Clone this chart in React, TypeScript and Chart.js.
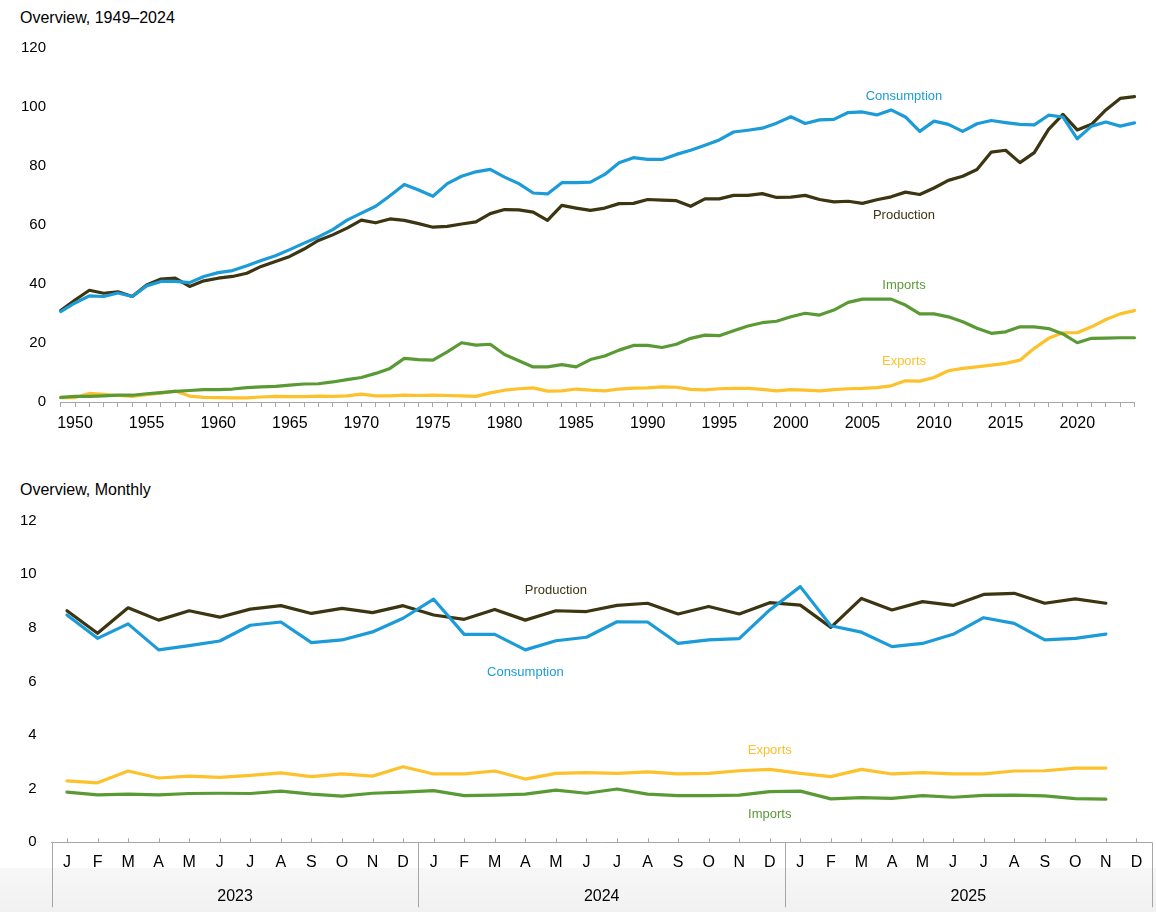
import React, { useEffect, useRef } from 'react';
import { Chart, registerables } from 'chart.js';

Chart.register(...registerables);

const FONT = '"Liberation Sans", Arial, Helvetica, sans-serif';
const AXIS_GRAY = '#a6a6a6';

const COLOR_CONSUMPTION = '#1b9bd7';
const COLOR_PRODUCTION = '#3c3511';
const COLOR_IMPORTS = '#5a9a35';
const COLOR_EXPORTS = '#fdc12b';

// ---------- Annual data (1949–2024) ----------
const YEARS = [
  '1949', '1950', '1951', '1952', '1953', '1954', '1955', '1956', '1957', '1958',
  '1959', '1960', '1961', '1962', '1963', '1964', '1965', '1966', '1967', '1968',
  '1969', '1970', '1971', '1972', '1973', '1974', '1975', '1976', '1977', '1978',
  '1979', '1980', '1981', '1982', '1983', '1984', '1985', '1986', '1987', '1988',
  '1989', '1990', '1991', '1992', '1993', '1994', '1995', '1996', '1997', '1998',
  '1999', '2000', '2001', '2002', '2003', '2004', '2005', '2006', '2007', '2008',
  '2009', '2010', '2011', '2012', '2013', '2014', '2015', '2016', '2017', '2018',
  '2019', '2020', '2021', '2022', '2023', '2024',
];

const ANNUAL_CONSUMPTION = [
  30.7, 33.6, 36.0, 35.8, 37.0, 35.8, 39.4, 40.9, 40.9, 40.5,
  42.6, 43.9, 44.6, 46.2, 48.0, 49.6, 51.7, 53.9, 56.0, 58.5,
  61.7, 64.1, 66.4, 70.0, 73.8, 71.9, 69.8, 74.1, 76.6, 78.1,
  78.9, 76.3, 74.1, 70.9, 70.6, 74.4, 74.4, 74.6, 77.2, 81.2,
  82.9, 82.3, 82.3, 84.0, 85.4, 87.1, 88.9, 91.6, 92.2, 92.9,
  94.6, 96.8, 94.5, 95.7, 95.9, 98.2, 98.4, 97.4, 99.1, 96.7,
  91.8, 95.3, 94.2, 91.8, 94.4, 95.5, 94.8, 94.2, 94.0, 97.3,
  96.7, 89.3, 93.6, 95.0, 93.6, 94.7,
];

const ANNUAL_PRODUCTION = [
  31.0, 34.6, 37.9, 36.9, 37.4, 35.8, 39.7, 41.7, 42.0, 39.2,
  41.1, 42.0, 42.6, 43.7, 46.0, 47.7, 49.4, 51.9, 54.8, 56.7,
  59.0, 61.7, 60.8, 62.1, 61.6, 60.5, 59.3, 59.6, 60.4, 61.1,
  63.9, 65.3, 65.2, 64.4, 61.6, 66.7, 65.8, 65.0, 65.8, 67.3,
  67.4, 68.7, 68.5, 68.3, 66.4, 68.9, 68.9, 70.1, 70.1, 70.7,
  69.4, 69.5, 70.1, 68.7, 67.9, 68.1, 67.4, 68.6, 69.6, 71.2,
  70.4, 72.6, 75.2, 76.6, 78.9, 84.8, 85.4, 81.2, 84.6, 92.5,
  97.6, 92.3, 94.2, 99.1, 103.0, 103.6,
];

const ANNUAL_IMPORTS = [
  1.6, 1.9, 1.9, 2.1, 2.3, 2.3, 2.8, 3.2, 3.6, 3.9,
  4.2, 4.2, 4.4, 4.9, 5.1, 5.3, 5.7, 6.1, 6.2, 6.8,
  7.6, 8.3, 9.7, 11.4, 14.8, 14.4, 14.2, 17.0, 20.1, 19.3,
  19.6, 16.1, 14.0, 11.9, 11.9, 12.7, 11.9, 14.4, 15.6, 17.6,
  19.2, 19.2, 18.5, 19.6, 21.6, 22.7, 22.5, 24.2, 25.8, 26.9,
  27.4, 28.9, 30.1, 29.5, 31.2, 33.8, 34.9, 34.9, 34.9, 32.9,
  29.9, 29.9, 28.9, 27.2, 25.0, 23.3, 23.8, 25.5, 25.5, 24.9,
  23.1, 20.1, 21.6, 21.7, 21.8, 21.8,
];

const ANNUAL_EXPORTS = [
  1.5, 1.5, 2.9, 2.6, 2.2, 1.9, 2.5, 3.0, 3.7, 2.0,
  1.6, 1.5, 1.4, 1.4, 1.7, 1.9, 1.8, 1.8, 2.0, 1.9,
  2.1, 2.7, 2.1, 2.1, 2.3, 2.2, 2.3, 2.2, 2.1, 1.9,
  3.1, 4.0, 4.5, 4.8, 3.7, 3.8, 4.4, 4.0, 3.8, 4.4,
  4.7, 4.8, 5.1, 5.0, 4.3, 4.1, 4.5, 4.6, 4.6, 4.3,
  3.8, 4.2, 4.0, 3.8, 4.2, 4.5, 4.6, 4.9, 5.5, 7.2,
  7.1, 8.3, 10.6, 11.4, 11.9, 12.5, 13.1, 14.2, 18.2, 21.6,
  23.5, 23.5, 25.5, 28.0, 29.9, 31.0,
];

const ANNUAL_Y_MAX = 120;
const ANNUAL_Y_STEP = 20;

// Inline series labels (category index, value)
const ANNUAL_LABELS = [
  { text: 'Consumption', x: 58.9, y: 103.6, color: COLOR_CONSUMPTION },
  { text: 'Production', x: 58.9, y: 63.4, color: COLOR_PRODUCTION },
  { text: 'Imports', x: 58.9, y: 39.7, color: COLOR_IMPORTS },
  { text: 'Exports', x: 58.9, y: 13.9, color: COLOR_EXPORTS },
];

// ---------- Monthly data (Jan 2023 – Dec 2025) ----------
const MONTH_LETTERS = ['J', 'F', 'M', 'A', 'M', 'J', 'J', 'A', 'S', 'O', 'N', 'D'];
const MONTH_YEARS = ['2023', '2024', '2025'];
const MONTH_LABELS = [...MONTH_LETTERS, ...MONTH_LETTERS, ...MONTH_LETTERS];

const MONTHLY_PRODUCTION = [
  8.64, 7.80, 8.75, 8.29, 8.64, 8.40, 8.70, 8.83, 8.54, 8.73, 8.57, 8.83,
  8.48, 8.32, 8.69, 8.29, 8.64, 8.61, 8.84, 8.92, 8.52, 8.80, 8.52, 8.94,
  8.85, 8.02, 9.10, 8.67, 8.98, 8.84, 9.25, 9.29, 8.92, 9.08, 8.92, null,
];
const MONTHLY_CONSUMPTION = [
  8.48, 7.61, 8.15, 7.18, 7.34, 7.51, 8.10, 8.22, 7.45, 7.55, 7.85, 8.36,
  9.07, 7.76, 7.76, 7.18, 7.52, 7.65, 8.23, 8.22, 7.42, 7.55, 7.60, 8.67,
  9.54, 8.08, 7.84, 7.30, 7.42, 7.76, 8.38, 8.17, 7.55, 7.61, 7.77, null,
];
const MONTHLY_EXPORTS = [
  2.29, 2.22, 2.66, 2.40, 2.47, 2.42, 2.50, 2.59, 2.45, 2.55, 2.47, 2.82,
  2.55, 2.55, 2.66, 2.36, 2.57, 2.60, 2.57, 2.63, 2.55, 2.57, 2.67, 2.72,
  2.57, 2.45, 2.72, 2.55, 2.60, 2.55, 2.55, 2.66, 2.67, 2.77, 2.77, null,
];
const MONTHLY_IMPORTS = [
  1.87, 1.77, 1.80, 1.77, 1.82, 1.83, 1.82, 1.91, 1.80, 1.72, 1.83, 1.87,
  1.93, 1.74, 1.76, 1.80, 1.95, 1.83, 1.99, 1.80, 1.74, 1.74, 1.76, 1.89,
  1.91, 1.62, 1.67, 1.64, 1.74, 1.68, 1.75, 1.76, 1.73, 1.63, 1.61, null,
];

const MONTHLY_Y_MAX = 12;
const MONTHLY_Y_STEP = 2;

const MONTHLY_LABELS = [
  { text: 'Production', x: 16.0, y: 9.4, color: COLOR_PRODUCTION },
  { text: 'Consumption', x: 15.0, y: 6.35, color: COLOR_CONSUMPTION },
  { text: 'Exports', x: 23.0, y: 3.43, color: COLOR_EXPORTS },
  { text: 'Imports', x: 23.0, y: 1.04, color: COLOR_IMPORTS },
];

// ---------- plugins ----------
function seriesLabelPlugin(labels: any[]) {
  return {
    id: 'seriesLabels',
    afterDatasetsDraw(chart: any) {
      const { ctx, scales } = chart;
      ctx.save();
      ctx.font = `13px ${FONT}`;
      ctx.textAlign = 'center';
      ctx.textBaseline = 'middle';
      labels.forEach((l) => {
        ctx.fillStyle = l.color;
        ctx.fillText(l.text, scales.x.getPixelForValue(l.x), scales.y.getPixelForValue(l.y));
      });
      ctx.restore();
    },
  };
}

const monthAxisPlugin = {
  id: 'monthAxis',
  afterDraw(chart: any) {
    const { ctx, chartArea, scales } = chart;
    const xs = scales.x;
    const bottom = chartArea.bottom;
    const n = MONTH_LABELS.length;
    const w = (chartArea.right - chartArea.left) / n;
    ctx.save();
    ctx.strokeStyle = AXIS_GRAY;
    ctx.lineWidth = 1;
    // inward tick marks at month centers
    for (let i = 0; i < n; i++) {
      const x = Math.round(xs.getPixelForValue(i)) + 0.5;
      ctx.beginPath();
      ctx.moveTo(x, bottom - 4);
      ctx.lineTo(x, bottom);
      ctx.stroke();
    }
    // year divider lines
    for (let k = 0; k <= MONTH_YEARS.length; k++) {
      const x = Math.round(chartArea.left + k * 12 * w) + 0.5;
      ctx.beginPath();
      ctx.moveTo(x, bottom);
      ctx.lineTo(x, bottom + 65);
      ctx.stroke();
    }
    // year labels
    ctx.fillStyle = '#000';
    ctx.font = `16px ${FONT}`;
    ctx.textAlign = 'center';
    ctx.textBaseline = 'middle';
    MONTH_YEARS.forEach((y, k) => {
      const x = chartArea.left + (k * 12 + 6) * w;
      ctx.fillText(y, x, bottom + 54);
    });
    ctx.restore();
  },
};

function lineDs(label: string, data: any[], color: string) {
  return {
    label,
    data,
    borderColor: color,
    backgroundColor: color,
    borderWidth: 3.2,
    pointRadius: 0,
    tension: 0,
    fill: false,
    borderJoinStyle: 'round',
    borderCapStyle: 'round',
    spanGaps: false,
  };
}

function AnnualChart() {
  const ref = useRef<HTMLCanvasElement>(null);
  useEffect(() => {
    if (!ref.current) return;
    const chart = new Chart(ref.current, {
      type: 'line',
      data: {
        labels: YEARS,
        datasets: [
          lineDs('Imports', ANNUAL_IMPORTS, COLOR_IMPORTS),
          lineDs('Exports', ANNUAL_EXPORTS, COLOR_EXPORTS),
          lineDs('Consumption', ANNUAL_CONSUMPTION, COLOR_CONSUMPTION),
          lineDs('Production', ANNUAL_PRODUCTION, COLOR_PRODUCTION),
        ] as any,
      },
      options: {
        animation: false,
        responsive: false,
        maintainAspectRatio: false,
        events: [],
        layout: { padding: { top: 48.3, right: 21.5, left: 0, bottom: 0 } },
        plugins: {
          legend: { display: false },
          tooltip: { enabled: false },
          title: { display: false },
        },
        scales: {
          x: {
            type: 'category',
            offset: false,
            grid: {
              display: true,
              drawOnChartArea: false,
              drawTicks: true,
              tickLength: 5,
              color: AXIS_GRAY,
              lineWidth: 1,
            },
            border: { display: true, color: AXIS_GRAY, width: 1 },
            ticks: {
              autoSkip: false,
              maxRotation: 0,
              minRotation: 0,
              color: '#000',
              padding: 7,
              font: { family: FONT, size: 16 },
              callback: (_v: any, i: number) => (Number(YEARS[i]) % 5 === 0 ? YEARS[i] : ''),
            },
            afterFit: (s: any) => {
              s.height = 38;
            },
          },
          y: {
            min: 0,
            max: ANNUAL_Y_MAX,
            grid: { display: false, drawTicks: false, tickLength: 0 },
            border: { display: false },
            ticks: {
              stepSize: ANNUAL_Y_STEP,
              color: '#000',
              padding: 14.7,
              font: { family: FONT, size: 15 },
            },
            afterFit: (s: any) => {
              s.width = 60.7;
            },
          },
        },
      } as any,
      plugins: [seriesLabelPlugin(ANNUAL_LABELS)],
    });
    return () => chart.destroy();
  }, []);
  return (
    <canvas
      ref={ref}
      width={1156}
      height={440}
      style={{ position: 'absolute', left: 0, top: 0, width: 1156, height: 440 }}
    />
  );
}

function MonthlyChart() {
  const ref = useRef<HTMLCanvasElement>(null);
  useEffect(() => {
    if (!ref.current) return;
    const chart = new Chart(ref.current, {
      type: 'line',
      data: {
        labels: MONTH_LABELS,
        datasets: [
          lineDs('Imports', MONTHLY_IMPORTS, COLOR_IMPORTS),
          lineDs('Exports', MONTHLY_EXPORTS, COLOR_EXPORTS),
          lineDs('Consumption', MONTHLY_CONSUMPTION, COLOR_CONSUMPTION),
          lineDs('Production', MONTHLY_PRODUCTION, COLOR_PRODUCTION),
        ] as any,
      },
      options: {
        animation: false,
        responsive: false,
        maintainAspectRatio: false,
        events: [],
        layout: { padding: { top: 50.7, right: 4.3, left: 0, bottom: 0 } },
        plugins: {
          legend: { display: false },
          tooltip: { enabled: false },
          title: { display: false },
        },
        scales: {
          x: {
            type: 'category',
            offset: true,
            grid: { display: false, drawTicks: false, tickLength: 0 },
            border: { display: true, color: AXIS_GRAY, width: 1 },
            ticks: {
              autoSkip: false,
              maxRotation: 0,
              minRotation: 0,
              color: '#000',
              padding: 11,
              font: { family: FONT, size: 16 },
            },
            afterFit: (s: any) => {
              s.height = 69.7;
            },
          },
          y: {
            min: 0,
            max: MONTHLY_Y_MAX,
            grid: { display: false, drawTicks: false, tickLength: 0 },
            border: { display: false },
            ticks: {
              stepSize: MONTHLY_Y_STEP,
              color: '#000',
              padding: 15,
              font: { family: FONT, size: 15 },
            },
            afterFit: (s: any) => {
              s.width = 51.7;
            },
          },
        },
      } as any,
      plugins: [seriesLabelPlugin(MONTHLY_LABELS), monthAxisPlugin],
    });
    return () => chart.destroy();
  }, []);
  return (
    <canvas
      ref={ref}
      width={1156}
      height={442}
      style={{ position: 'absolute', left: 0, top: 470, width: 1156, height: 442 }}
    />
  );
}

const titleStyle: React.CSSProperties = {
  position: 'absolute',
  left: 20,
  fontFamily: FONT,
  fontSize: 16,
  lineHeight: '19px',
  color: '#000',
  whiteSpace: 'nowrap',
};

export default function App() {
  return (
    <div
      style={{
        position: 'absolute',
        left: 0,
        top: 0,
        width: 1156,
        height: 912,
        background: '#fff',
        overflow: 'hidden',
      }}
    >
      <div
        style={{
          position: 'absolute',
          left: 0,
          top: 868,
          width: 1156,
          height: 44,
          background: 'linear-gradient(#f7f7f7, #f1f1f1)',
        }}
      />
      <div style={{ ...titleStyle, top: 7.7 }}>Overview, 1949–2024</div>
      <div style={{ ...titleStyle, top: 479.7 }}>Overview, Monthly</div>
      <AnnualChart />
      <MonthlyChart />
    </div>
  );
}
